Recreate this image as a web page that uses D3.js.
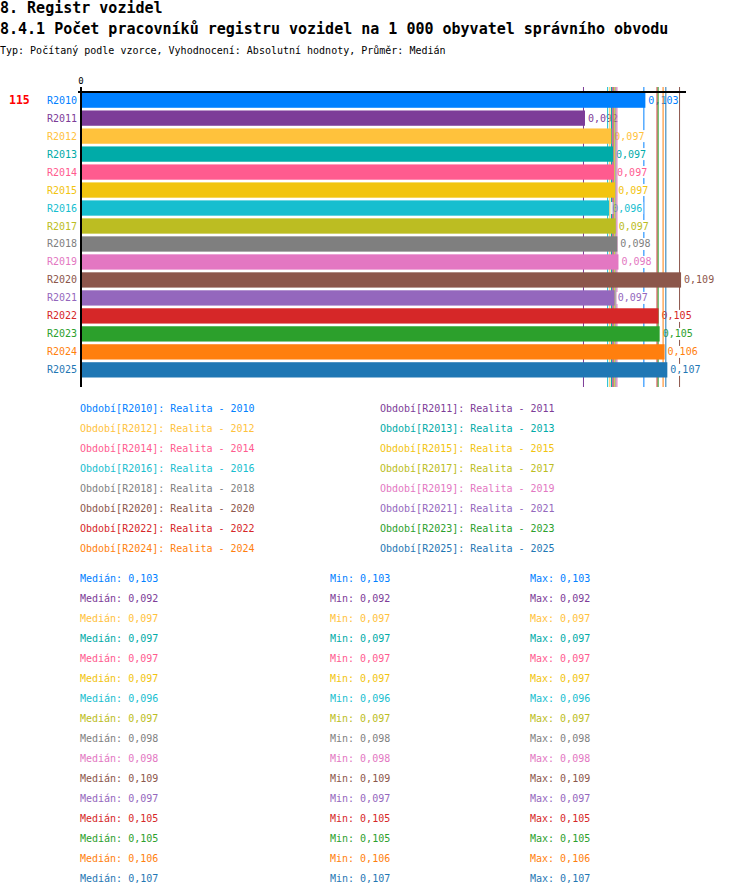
<!DOCTYPE html>
<html>
<head>
<meta charset="utf-8">
<script src="https://cdn.jsdelivr.net/npm/d3@7"></script>
<style>
  body { margin: 0; background: #fff; }
  text { font-family: "DejaVu Sans Mono", monospace; }
</style>
</head>
<body>
<div id="chart"></div>
<script>
// Periods, one bar each
const periods = ['R2010', 'R2011', 'R2012', 'R2013', 'R2014', 'R2015', 'R2016', 'R2017',
    'R2018', 'R2019', 'R2020', 'R2021', 'R2022', 'R2023', 'R2024', 'R2025'];
const years = ['2010', '2011', '2012', '2013', '2014', '2015', '2016', '2017',
    '2018', '2019', '2020', '2021', '2022', '2023', '2024', '2025'];
// Median per period (labels are rounded)
const medians = [0.1028, 0.0918, 0.0966, 0.0969, 0.0971, 0.0973, 0.0962, 0.0974,
    0.0977, 0.0979, 0.1093, 0.0972, 0.1052, 0.1054, 0.1063, 0.1068];
const mins = medians;
const maxs = medians;
const colors = ['#0080ff', '#7d3c98', '#ffc23c', '#00aba8', '#ff5b8f', '#f2c40f', '#17becf', '#bcbd22',
    '#7f7f7f', '#e377c2', '#8c564b', '#9467bd', '#d62728', '#2ca02c', '#ff7f0e', '#1f77b4'];
const axisMax = 0.1102;
const countLabel = '115';

const titles = [
    '8. Registr vozidel',
    '8.4.1 Počet pracovníků registru vozidel na 1 000 obyvatel správního obvodu',
];
const subtitle = 'Typ: Počítaný podle vzorce, Vyhodnocení: Absolutní hodnoty, Průměr: Medián';

const W = 750, H = 896;
const fmt = (v) => d3.format('.3f')(v).replace('.', ',');

const svg = d3.select('#chart').append('svg')
    .attr('width', W)
    .attr('height', H);

// Headers
svg.append('text').attr('x', 0).attr('y', 13)
    .attr('font-size', '15px').attr('font-weight', 'bold').attr('fill', '#000')
    .text(titles[0]);
svg.append('text').attr('x', 0).attr('y', 34)
    .attr('font-size', '15px').attr('font-weight', 'bold').attr('fill', '#000')
    .text(titles[1]);
svg.append('text').attr('x', 0).attr('y', 54)
    .attr('font-size', '10px').attr('fill', '#000')
    .text(subtitle);

// Scales
var x = d3.scaleLinear()
    .domain([0, axisMax])
    .range([81, 686]);

var y = d3.scaleBand()
    .domain(periods)
    .range([92.5, 377.5])
    .paddingInner(0.15)
    .paddingOuter(0);

const lineTop = 87, lineBottom = 387;

// Median lines and value labels, interleaved so later lines cross earlier labels
let lineLayer = svg.append('g');
periods.forEach((p, i) => {
    let lx = x(medians[i]) - 1.5;
    lineLayer.append('line')
        .attr('x1', lx).attr('x2', lx)
        .attr('y1', lineTop).attr('y2', lineBottom)
        .attr('stroke', colors[i])
        .attr('stroke-width', 1);

    let label = fmt(medians[i]);
    let tx = x(medians[i]) + 3;
    let cy = y(p) + y.bandwidth() / 2;
    lineLayer.append('rect')
        .attr('x', tx - 1)
        .attr('y', cy - 6)
        .attr('width', label.length * 6.02 + 2)
        .attr('height', 12)
        .attr('fill', '#fff');
    lineLayer.append('text')
        .attr('x', tx)
        .attr('y', cy)
        .attr('dy', '0.35em')
        .attr('font-size', '10px')
        .attr('fill', colors[i])
        .text(label);
});

// Bars
svg.append('g').selectAll('rect')
    .data(periods)
    .enter()
    .append('rect')
    .attr('x', x(0))
    .attr('y', (d) => y(d))
    .attr('width', (d, i) => x(medians[i]) - x(0))
    .attr('height', y.bandwidth())
    .attr('fill', (d, i) => colors[i]);

// Axes: top value axis with a single 0 tick, left category axis
svg.append('line')
    .attr('x1', 78).attr('x2', x.range()[1])
    .attr('y1', 92).attr('y2', 92)
    .attr('stroke', '#000').attr('stroke-width', 2);
svg.append('line')
    .attr('x1', x(0)).attr('x2', x(0))
    .attr('y1', lineTop).attr('y2', lineBottom)
    .attr('stroke', '#000').attr('stroke-width', 2);
svg.append('text')
    .attr('x', x(0)).attr('y', 84)
    .attr('text-anchor', 'middle')
    .attr('font-size', '9px').attr('fill', '#000')
    .text(d3.format('d')(x.domain()[0]));

svg.append('g').selectAll('text')
    .data(periods)
    .enter()
    .append('text')
    .attr('x', 77)
    .attr('y', (d) => y(d) + y.bandwidth() / 2)
    .attr('dy', '0.35em')
    .attr('text-anchor', 'end')
    .attr('font-size', '10px')
    .attr('fill', (d, i) => colors[i])
    .text((d) => d);

svg.append('text')
    .attr('x', 9)
    .attr('y', y(periods[0]) + y.bandwidth() / 2)
    .attr('dy', '0.36em')
    .attr('font-size', '11.5px').attr('font-weight', 'bold')
    .attr('fill', '#ff0000')
    .text(countLabel);

// Legend, two columns
svg.append('g').selectAll('text')
    .data(periods)
    .enter()
    .append('text')
    .attr('x', (d, i) => i % 2 === 0 ? 80 : 380)
    .attr('y', (d, i) => 412 + Math.floor(i / 2) * 20)
    .attr('font-size', '10px')
    .attr('fill', (d, i) => colors[i])
    .text((d, i) => `Období[${d}]: Realita - ${years[i]}`);

// Statistics rows
let stats = svg.append('g');
periods.forEach((p, i) => {
    let ty = 582 + i * 20;
    stats.append('text').attr('x', 80).attr('y', ty)
        .attr('font-size', '10px').attr('fill', colors[i])
        .text(`Medián: ${fmt(medians[i])}`);
    stats.append('text').attr('x', 330).attr('y', ty)
        .attr('font-size', '10px').attr('fill', colors[i])
        .text(`Min: ${fmt(mins[i])}`);
    stats.append('text').attr('x', 530).attr('y', ty)
        .attr('font-size', '10px').attr('fill', colors[i])
        .text(`Max: ${fmt(maxs[i])}`);
});
</script>
</body>
</html>
